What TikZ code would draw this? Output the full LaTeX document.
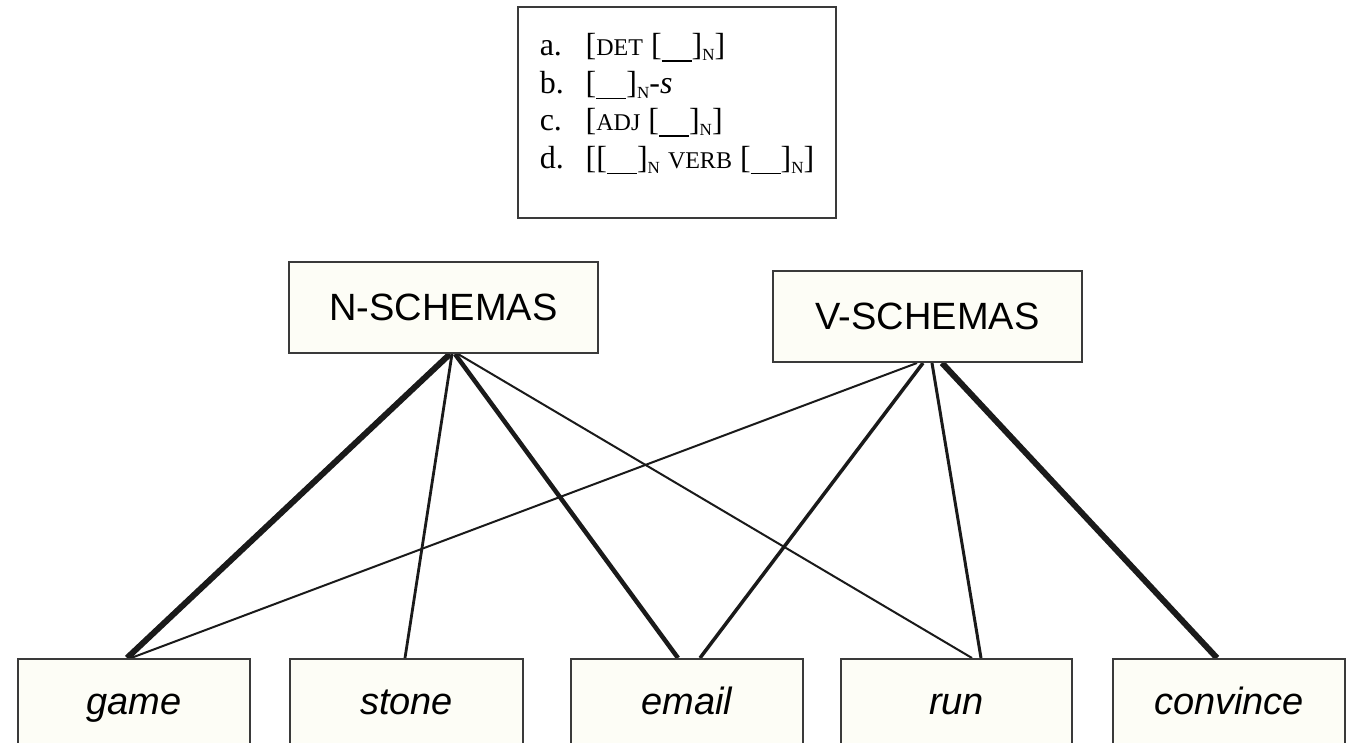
\documentclass[tikz,border=0pt]{standalone}
\usepackage{fontspec}
\setmainfont{Liberation Serif}
\setsansfont{Liberation Sans}
\usetikzlibrary{backgrounds}
\definecolor{boxline}{HTML}{3A3A3A}
\definecolor{boxfill}{HTML}{FDFDF6}
\definecolor{ink}{HTML}{1A1A1A}
\newcommand{\smcap}[1]{{\fontsize{24}{24}\selectfont #1}}
\newcommand{\subN}{\lower5pt\hbox{\fontsize{17}{17}\selectfont N}}
\newcommand{\blank}{\rule[-6pt]{30pt}{1.4pt}}
\newcommand{\lab}[1]{\makebox[46pt][l]{#1}}
\begin{document}
\begin{tikzpicture}[x=1pt,y=-1pt,
  exbox/.style={draw=boxline, line width=2pt, fill=white, inner sep=0pt,
    minimum width=318pt, minimum height=211pt},
  extext/.style={inner sep=0pt, align=left, font=\fontsize{32}{37.5}\selectfont},
  schema/.style={draw=boxline, line width=2pt, fill=boxfill, inner sep=0pt,
    minimum width=309pt, minimum height=91pt,
    font=\sffamily\fontsize{38}{40}\selectfont},
  word/.style={draw=boxline, line width=2pt, fill=boxfill, inner sep=0pt,
    minimum height=91pt, text height=28.5pt, text depth=9.5pt,
    font=\sffamily\itshape\fontsize{38}{40}\selectfont},
  link/.style={draw=ink, line cap=butt}]
\useasboundingbox (0,0) rectangle (1355,742);
\clip (0,0) rectangle (1355,742);

\node[exbox] (ex) at (677,112.5) {};
\node[extext] (exlist) at (677,104) {%
\lab{a.}[\smcap{DET} [\blank]\subN]\\
\lab{b.}[\blank]\subN-\textit{s}\\
\lab{c.}[\smcap{ADJ} [\blank]\subN]\\
\lab{d.}[[\blank]\subN\ \smcap{VERB} [\blank]\subN]};

\node[schema] (ns) at (443.5,307.5) {N-SCHEMAS};
\node[schema] (vs) at (927.5,316.5) {V-SCHEMAS};

\node[word, minimum width=232pt] (game) at (134,704.5) {game};
\node[word, minimum width=233pt] (stone) at (406.5,704.5) {stone};
\node[word, minimum width=232pt] (email) at (687,704.5) {email};
\node[word, minimum width=231pt] (run) at (956.5,704.5) {run};
\node[word, minimum width=232pt] (convince) at (1229,704.5) {convince};

\begin{pgfonlayer}{background}
\draw[link, line width=6pt]   ([xshift=6.5pt]ns.south)  -- ([xshift=-7pt]game.north);
\draw[link, line width=2.8pt] ([xshift=8.5pt]ns.south)  -- ([xshift=-1.5pt]stone.north);
\draw[link, line width=4.5pt] ([xshift=11.5pt]ns.south) -- ([xshift=-9pt]email.north);
\draw[link, line width=2pt]   ([xshift=14.5pt]ns.south) -- ([xshift=15.5pt]run.north);
\draw[link, line width=2pt]   ([xshift=-10.5pt]vs.south) -- ([xshift=-3pt]game.north);
\draw[link, line width=3.5pt] ([xshift=-4.5pt]vs.south) -- ([xshift=13pt]email.north);
\draw[link, line width=3pt]   ([xshift=4.5pt]vs.south)  -- ([xshift=24.5pt]run.north);
\draw[link, line width=6pt]   ([xshift=14.5pt]vs.south) -- ([xshift=-12pt]convince.north);
\end{pgfonlayer}
\end{tikzpicture}
\end{document}
